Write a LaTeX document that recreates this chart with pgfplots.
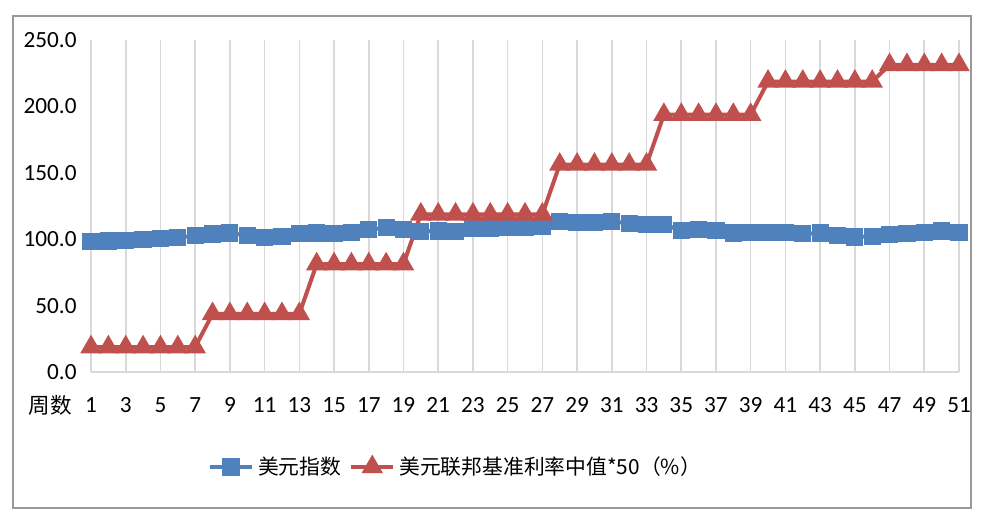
\documentclass[border=0pt]{standalone}
\usepackage{fontspec}
\setmainfont{Carlito}
\newfontfamily\cjk{Noto Sans CJK SC}
\usepackage{pgfplots}
\pgfplotsset{compat=1.18}
\usepackage{pgfplotstable}
\definecolor{xlblue}{HTML}{4F81BD}
\definecolor{xlred}{HTML}{C0504D}
\definecolor{gridg}{HTML}{D9D9D9}
\pgfplotstableread{
w v
1 98.5
2 98.6
3 99.2
4 99.9
5 100.4
6 101.2
7 102.8
8 103.9
9 104.6
10 102.8
11 101.5
12 102.2
13 104.2
14 104.7
15 104.2
16 105.3
17 107.2
18 108.6
19 107.2
20 105.8
21 106.2
22 105.8
23 107.8
24 108.4
25 108.8
26 109.0
27 110.0
28 113.2
29 112.5
30 112.6
31 113.4
32 112.0
33 111.3
34 111.2
35 106.4
36 107.1
37 106.4
38 104.6
39 105.2
40 105.2
41 104.9
42 104.0
43 104.6
44 102.5
45 101.7
46 102.2
47 103.5
48 104.0
49 104.8
50 106.2
51 105.0
}\dxy
\pgfplotstableread{
w v
1 18.75
2 18.75
3 18.75
4 18.75
5 18.75
6 18.75
7 18.75
8 43.75
9 43.75
10 43.75
11 43.75
12 43.75
13 43.75
14 81.25
15 81.25
16 81.25
17 81.25
18 81.25
19 81.25
20 118.75
21 118.75
22 118.75
23 118.75
24 118.75
25 118.75
26 118.75
27 118.75
28 156.25
29 156.25
30 156.25
31 156.25
32 156.25
33 156.25
34 193.75
35 193.75
36 193.75
37 193.75
38 193.75
39 193.75
40 218.75
41 218.75
42 218.75
43 218.75
44 218.75
45 218.75
46 218.75
47 231.25
48 231.25
49 231.25
50 231.25
51 231.25
}\fed
\begin{document}
\begin{tikzpicture}
\path[use as bounding box] (0,0) rectangle (491.5pt,257.5pt);
\draw[gray!80, line width=0.6pt] (6.5pt,3.5pt) rectangle (485.5pt,249.5pt);
\begin{axis}[
  at={(45.5pt,71.5pt)}, anchor=south west,
  scale only axis, width=434pt, height=166pt,
  xmin=1, xmax=51, ymin=0, ymax=250,
  xtick={1,3,...,51}, ytick={0,50,...,250},
  xmajorgrids, grid style={gridg, line width=0.8pt},
  axis x line*=bottom, axis y line*=left,
  y axis line style={draw=none},
  x axis line style={gridg, line width=0.8pt},
  major tick length=0pt,
  /pgf/number format/assume math mode=true,
  yticklabel={\pgfmathprintnumber[fixed,fixed zerofill,precision=1]{\tick}},
  yticklabel style={anchor=east, inner sep=0pt, xshift=-7pt, font=\fontsize{11.6}{13}\selectfont},
  xticklabel style={anchor=center, inner sep=0pt, yshift=-16.5pt, font=\fontsize{11.6}{13}\selectfont},
  clip=false,
  legend columns=2,
  legend style={at={(0.421,-0.286)}, anchor=center, draw=none, fill=none,
    font=\cjk\fontsize{10.4}{12}\selectfont, inner sep=0pt,
    /tikz/every even column/.append style={column sep=2pt}},
  legend cell align=left,
  legend image code/.code={\draw[mark repeat=2,mark phase=2] plot coordinates {(0pt,0pt) (10.5pt,0pt) (21pt,0pt)};},
]
\addplot[xlblue, line width=2pt, mark=square*, mark size=3.3pt, mark options={solid, fill=xlblue, draw=xlblue}] table[x=w,y=v]{\dxy};
\addlegendentry{美元指数}
\addplot[xlred, line width=2pt, mark=triangle*, mark size=4.2pt, mark options={solid, fill=xlred, draw=xlred}] table[x=w,y=v]{\fed};
\addlegendentry{美元联邦基准利率中值*50（\%）}
\node[font=\cjk\fontsize{10.8}{12}\selectfont, anchor=center] at ([xshift=-20.5pt,yshift=-16.5pt]rel axis cs:0,0) {周数};
\end{axis}
\end{tikzpicture}
\end{document}
